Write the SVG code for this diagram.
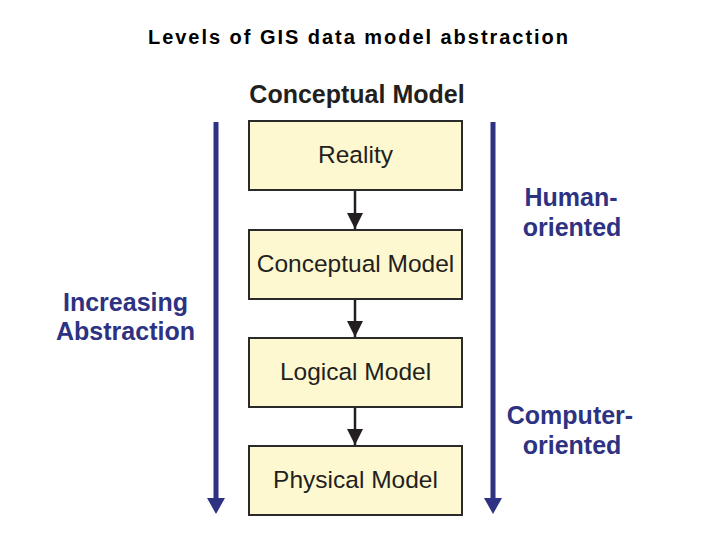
<svg xmlns="http://www.w3.org/2000/svg" width="720" height="540" viewBox="0 0 720 540">
<style>
.title{font-family:"Liberation Sans",Arial,sans-serif;font-size:20px;font-weight:bold;fill:#000}
.hdr{font-family:"Liberation Sans",Arial,sans-serif;font-size:25px;font-weight:bold;fill:#231f20}
.box{fill:#fdf8d0;stroke:#2a2a2a;stroke-width:2}
.lbl{font-family:"Liberation Sans",Arial,sans-serif;font-size:24.5px;fill:#231f20;text-anchor:middle}
.side{font-family:"Liberation Sans",Arial,sans-serif;font-size:25px;font-weight:bold;fill:#2e3282;text-anchor:middle}
.blue{stroke:#2e3282;stroke-width:5;fill:none}
.conn{stroke:#231f20;stroke-width:2.5;fill:none}
</style>
<defs>
<marker id="ah" markerUnits="userSpaceOnUse" markerWidth="18" markerHeight="16" refX="16" refY="8" orient="auto" viewBox="0 0 18 16">
<path d="M0,0 L16,8 L0,16 Z" fill="#231f20"/>
</marker>
</defs>
<rect width="720" height="540" fill="#fff"/>
<text class="title" x="148" y="44" textLength="420" lengthAdjust="spacing">Levels of GIS data model abstraction</text>
<text class="hdr" x="357" y="103" text-anchor="middle">Conceptual Model</text>

<g id="node-reality"><rect class="box" x="249" y="121" width="213" height="69"/><text class="lbl" x="355.5" y="163">Reality</text></g>
<g id="node-conceptual"><rect class="box" x="249" y="230" width="213" height="69"/><text class="lbl" x="355.5" y="272">Conceptual Model</text></g>
<g id="node-logical"><rect class="box" x="249" y="338" width="213" height="69"/><text class="lbl" x="355.5" y="380">Logical Model</text></g>
<g id="node-physical"><rect class="box" x="249" y="446" width="213" height="69"/><text class="lbl" x="355.5" y="488">Physical Model</text></g>

<g id="connectors">
<line class="conn" x1="355" y1="191" x2="355" y2="229" marker-end="url(#ah)"/>
<line class="conn" x1="355" y1="300" x2="355" y2="337" marker-end="url(#ah)"/>
<line class="conn" x1="355" y1="408" x2="355" y2="445" marker-end="url(#ah)"/>
<line class="blue" x1="216" y1="122" x2="216" y2="500"/>
<path d="M207,498 L225,498 L216,514 Z" fill="#2e3282"/>
<line class="blue" x1="493" y1="122" x2="493" y2="500"/>
<path d="M484,498 L502,498 L493,514 Z" fill="#2e3282"/>
</g>

<g id="label-abstraction"><text class="side" x="125.5" y="311">Increasing</text><text class="side" x="125.5" y="340">Abstraction</text></g>
<g id="label-human"><text class="side" x="571" y="206">Human-</text><text class="side" x="572" y="236">oriented</text></g>
<g id="label-computer"><text class="side" x="570" y="424">Computer-</text><text class="side" x="572" y="454">oriented</text></g>
</svg>
